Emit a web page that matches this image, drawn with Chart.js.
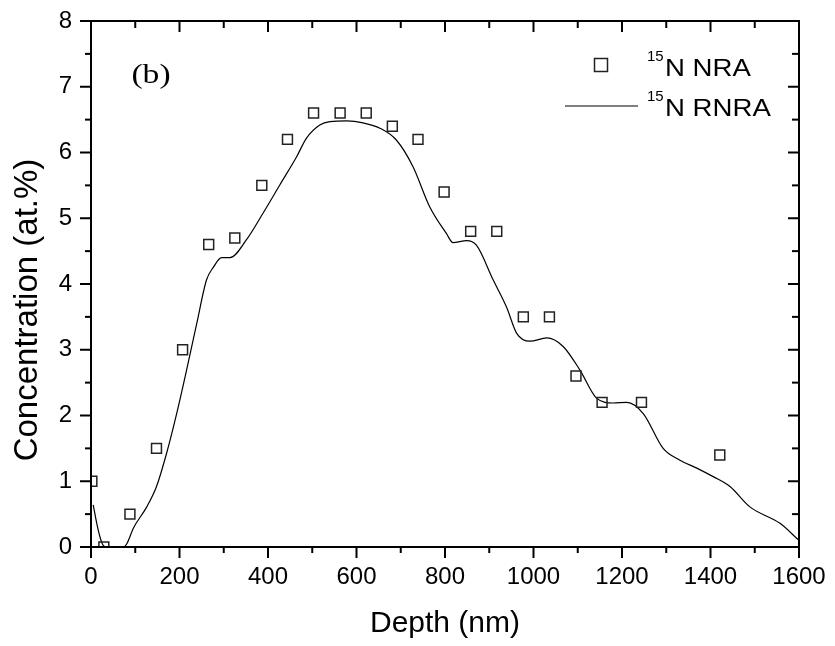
<!DOCTYPE html>
<html>
<head>
<meta charset="utf-8">
<script src="https://cdn.jsdelivr.net/npm/chart.js@4/dist/chart.umd.min.js"></script>
<style>
  html, body { margin: 0; padding: 0; background: #fff; }
</style>
</head>
<body>
<canvas id="chart" width="835" height="646"></canvas>
<script>
// 15N NRA measurements (squares)
const nraDepth = [2, 29, 88, 148, 207, 266, 325, 386, 444, 503, 563, 622, 681, 739, 798, 858, 917, 977, 1036, 1096, 1155, 1244, 1421];
const nraConc = [1.0, 0.0, 0.5, 1.5, 3.0, 4.6, 4.7, 5.5, 6.2, 6.6, 6.6, 6.6, 6.4, 6.2, 5.4, 4.8, 4.8, 3.5, 3.5, 2.6, 2.2, 2.2, 1.4];

// 15N RNRA profile (line)
const rnraDepth = [5, 13, 20, 27, 35, 50, 73, 81, 96, 126, 148, 171, 194, 216, 239, 261, 277, 295, 314, 351, 389, 427, 465, 487, 517, 540, 578, 615, 653, 690, 728, 765, 803, 818, 849, 871, 909, 939, 962, 992, 1030, 1067, 1105, 1143, 1180, 1211, 1248, 1293, 1331, 1369, 1406, 1444, 1489, 1557, 1600];
const rnraConc = [0.64, 0.36, 0.16, 0.03, 0.0, 0.0, 0.0, 0.05, 0.29, 0.61, 0.92, 1.43, 2.04, 2.69, 3.4, 4.06, 4.26, 4.4, 4.4, 4.67, 5.08, 5.51, 5.94, 6.22, 6.42, 6.47, 6.48, 6.45, 6.37, 6.19, 5.78, 5.18, 4.77, 4.63, 4.66, 4.59, 4.06, 3.65, 3.25, 3.13, 3.18, 3.05, 2.69, 2.26, 2.19, 2.2, 2.03, 1.5, 1.32, 1.2, 1.07, 0.92, 0.61, 0.36, 0.1];

const xTicks = [0, 200, 400, 600, 800, 1000, 1200, 1400, 1600];
const yTicks = [0, 1, 2, 3, 4, 5, 6, 7, 8];

const FONT = '"Liberation Sans", Arial, sans-serif';

function line(ctx, x1, y1, x2, y2) {
  ctx.beginPath();
  ctx.moveTo(x1, y1);
  ctx.lineTo(x2, y2);
  ctx.stroke();
}

// box around the plot + major/minor ticks (out on bottom/left, in on top/right)
const framePlugin = {
  id: 'frame',
  afterDatasetsDraw(chart) {
    const { ctx, chartArea: a, scales: { x, y } } = chart;
    ctx.save();
    ctx.strokeStyle = '#000';
    ctx.lineWidth = 2;
    ctx.strokeRect(a.left, a.top, a.right - a.left, a.bottom - a.top);

    xTicks.forEach((v, i) => {
      const px = x.getPixelForValue(v);
      line(ctx, px, a.bottom, px, a.bottom + 11);
      line(ctx, px, a.top, px, a.top + 11);
      if (i < xTicks.length - 1) {
        const mx = x.getPixelForValue((v + xTicks[i + 1]) / 2);
        line(ctx, mx, a.bottom, mx, a.bottom + 6);
        line(ctx, mx, a.top, mx, a.top + 7);
      }
    });
    yTicks.forEach((v, i) => {
      const py = y.getPixelForValue(v);
      line(ctx, a.left - 11, py, a.left, py);
      line(ctx, a.right - 11, py, a.right, py);
      if (i < yTicks.length - 1) {
        const my = y.getPixelForValue((v + yTicks[i + 1]) / 2);
        line(ctx, a.left - 6, my, a.left, my);
        line(ctx, a.right - 7, my, a.right, my);
      }
    });
    ctx.restore();
  },
  afterDraw(chart) {
    const { ctx } = chart;
    ctx.save();
    ctx.fillStyle = '#000';

    // y axis title (sits a bit below the plot's middle in the original)
    ctx.save();
    ctx.translate(28, 310);
    ctx.rotate(-Math.PI / 2);
    ctx.font = '33px ' + FONT;
    ctx.textAlign = 'center';
    ctx.textBaseline = 'middle';
    ctx.fillText('Concentration (at.%)', 0, 0);
    ctx.restore();

    // panel label
    ctx.save();
    ctx.translate(151, 76);
    ctx.scale(1.2, 1);
    ctx.font = '28px "Liberation Serif", "Times New Roman", serif';
    ctx.textAlign = 'center';
    ctx.textBaseline = 'middle';
    ctx.fillText('(b)', 0, 0);
    ctx.restore();

    // legend
    ctx.textAlign = 'left';
    ctx.textBaseline = 'alphabetic';
    ctx.strokeStyle = '#222';
    ctx.lineWidth = 1.5;
    ctx.strokeRect(594.5, 58.5, 13, 13);
    ctx.strokeStyle = '#555';
    ctx.lineWidth = 1.5;
    line(ctx, 565, 106, 638, 106);

    const entries = [['N NRA', 76], ['N RNRA', 116]];
    entries.forEach(([txt, base]) => {
      ctx.font = '15px ' + FONT;
      ctx.fillText('15', 647, base - 15);
      ctx.save();
      ctx.translate(665, base);
      ctx.scale(1.15, 1);
      ctx.font = '24px ' + FONT;
      ctx.fillText(txt, 0, 0);
      ctx.restore();
    });
    ctx.restore();
  }
};

new Chart(document.getElementById('chart'), {
  type: 'scatter',
  data: {
    datasets: [
      {
        label: '15N NRA',
        data: nraDepth.map((d, i) => ({ x: d, y: nraConc[i] })),
        pointStyle: 'rect',
        pointRadius: 7,
        pointBorderWidth: 1.5,
        pointBackgroundColor: 'rgba(255,255,255,0)',
        pointBorderColor: '#222',
        showLine: false,
        clip: 0,
      },
      {
        label: '15N RNRA',
        data: rnraDepth.map((d, i) => ({ x: d, y: rnraConc[i] })),
        showLine: true,
        borderColor: '#000',
        borderWidth: 1.2,
        pointRadius: 0,
        cubicInterpolationMode: 'monotone',
        clip: 0,
      },
    ],
  },
  options: {
    responsive: false,
    animation: false,
    devicePixelRatio: 1,
    layout: { padding: { top: 21, right: 36, left: 0, bottom: 0 } },
    plugins: {
      legend: { display: false },
      tooltip: { enabled: false },
    },
    scales: {
      x: {
        type: 'linear',
        min: 0,
        max: 1600,
        afterBuildTicks: (scale) => { scale.ticks = xTicks.map((v) => ({ value: v })); },
        afterFit: (scale) => { scale.height = 99; },
        // tick marks come from the frame plugin; tickLength only offsets the labels
        grid: { display: false, drawTicks: true, tickLength: 16 },
        border: { display: false },
        ticks: {
          padding: 0,
          maxRotation: 0,
          color: '#000',
          font: { family: FONT, size: 24 },
          callback: (v) => String(v),
        },
        title: {
          display: true,
          text: 'Depth (nm)',
          color: '#000',
          font: { family: FONT, size: 30 },
          padding: { top: 0, bottom: 4 },
        },
      },
      y: {
        type: 'linear',
        min: 0,
        max: 8,
        afterBuildTicks: (scale) => { scale.ticks = yTicks.map((v) => ({ value: v })); },
        afterFit: (scale) => { scale.width = 91; },
        grid: { display: false, drawTicks: true, tickLength: 19 },
        border: { display: false },
        ticks: {
          padding: 0,
          color: '#000',
          font: { family: FONT, size: 24 },
          callback: (v) => String(v),
        },
        title: { display: false },
      },
    },
  },
  plugins: [framePlugin],
});
</script>
</body>
</html>
